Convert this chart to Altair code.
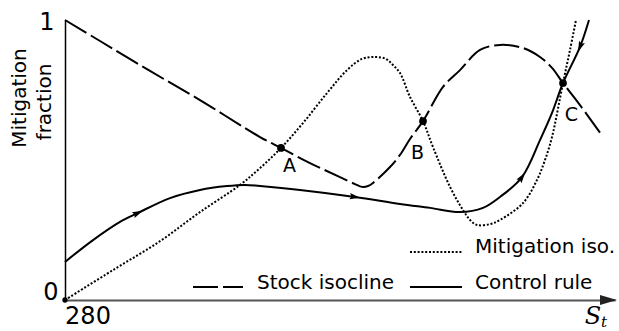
import math

import altair as alt
import pandas as pd

# Stock S_t on the horizontal axis, mitigation fraction on the vertical axis
stock_iso_S = [280, 315, 365, 415, 475, 496, 525, 555, 570, 577, 583, 588, 605, 615, 625,
               638, 658, 675, 695, 715, 738, 755, 767, 778, 795, 816]
stock_iso_m = [1.0, 0.925, 0.818, 0.714, 0.582, 0.543, 0.489, 0.439, 0.414, 0.404, 0.407,
               0.418, 0.475, 0.518, 0.575, 0.639, 0.761, 0.821, 0.893, 0.911, 0.9, 0.868,
               0.829, 0.775, 0.696, 0.593]

mitig_iso_S = [280, 328, 375, 415, 455, 475, 496, 518, 542, 562, 577, 590, 601, 608, 615,
               625, 638, 648, 665, 678, 685, 692, 705, 715, 738, 752, 760, 767, 778, 785, 791]
mitig_iso_m = [0.0, 0.107, 0.21, 0.314, 0.411, 0.471, 0.543, 0.632, 0.739, 0.821, 0.861,
               0.868, 0.861, 0.839, 0.811, 0.725, 0.639, 0.546, 0.404, 0.321, 0.286, 0.268,
               0.271, 0.286, 0.346, 0.429, 0.5, 0.582, 0.775, 0.893, 1.0]

control_S = [280, 308, 335, 353, 385, 415, 442, 460, 475, 515, 570, 615, 645, 675, 698,
             715, 737, 755, 767, 778, 795, 804]
control_m = [0.136, 0.214, 0.279, 0.311, 0.364, 0.393, 0.407, 0.411, 0.407, 0.393, 0.368,
             0.343, 0.329, 0.314, 0.329, 0.368, 0.439, 0.571, 0.668, 0.775, 0.904, 1.0]

# Equilibria where the two isoclines cross
eq_names = ["A", "B", "C"]
eq_S = [496, 638, 778]
eq_m = [0.543, 0.639, 0.775]

# Direction markers along the control rule (+1 forward in S, -1 backward)
arrow_S = [353, 570, 737, 795]
arrow_dir = [1, 1, 1, -1]

S_MIN, S_MAX = 280, 830
W, H = 550, 280
FONT = "DejaVu Sans"
CURVE = "catmull-rom"

x_scale = alt.Scale(domain=[S_MIN, S_MAX], nice=False, zero=False)
y_scale = alt.Scale(domain=[0, 1], nice=False, zero=False)


def xenc():
    return alt.X("S:Q", scale=x_scale,
                 axis=alt.Axis(labels=False, ticks=False, grid=False, title=None,
                               domainColor="#555555", domainWidth=2))


def yenc():
    return alt.Y("m:Q", scale=y_scale,
                 axis=alt.Axis(labels=False, ticks=False, grid=False, title=None,
                               domainColor="black", domainWidth=1.5))


stock_df = pd.DataFrame({"S": stock_iso_S, "m": stock_iso_m})
mitig_df = pd.DataFrame({"S": mitig_iso_S, "m": mitig_iso_m})
ctrl_df = pd.DataFrame({"S": control_S, "m": control_m})
eq_df = pd.DataFrame({"S": eq_S, "m": eq_m, "name": eq_names})

# arrowhead orientation follows the local slope of the control rule in screen space
angles, arrow_m = [], []
for s, d in zip(arrow_S, arrow_dir):
    i = control_S.index(s)
    dx = (control_S[i + 1] - control_S[i - 1]) * W / (S_MAX - S_MIN)
    dy = -(control_m[i + 1] - control_m[i - 1]) * H
    a = math.degrees(math.atan2(dy, dx)) + (180 if d < 0 else 0)
    angles.append(a % 360)
    arrow_m.append(control_m[i])
arrow_df = pd.DataFrame({"S": arrow_S, "m": arrow_m, "angle": angles})

DASH = [25, 5]
DOT = [2, 1.8]

stock_line = alt.Chart(stock_df).mark_line(
    color="black", strokeWidth=2, strokeDash=DASH, interpolate=CURVE
).encode(x=xenc(), y=yenc())

mitig_line = alt.Chart(mitig_df).mark_line(
    color="black", strokeWidth=2, strokeDash=DOT, interpolate=CURVE
).encode(x=xenc(), y=yenc())

ctrl_line = alt.Chart(ctrl_df).mark_line(
    color="black", strokeWidth=2, interpolate=CURVE
).encode(x=xenc(), y=yenc())

ARROW = "M1,0L-1,-0.6L-0.7,0L-1,0.6Z"
arrows = alt.Chart(arrow_df).mark_point(
    shape=ARROW, filled=True, color="black", opacity=1, size=110
).encode(x=xenc(), y=yenc(), angle=alt.Angle("angle:Q", scale=None))

eq_points = alt.Chart(eq_df).mark_point(
    shape="circle", filled=True, color="black", opacity=1, size=60
).encode(x=xenc(), y=yenc())

origin_dot = alt.Chart(pd.DataFrame({"S": [S_MIN], "m": [0.0]})).mark_point(
    shape="circle", filled=True, color="black", opacity=1, size=28
).encode(x=xenc(), y=yenc())

label_offsets = {"A": (8.5, 18.5), "B": (-5.5, 31.5), "C": (8.5, 31.5)}
eq_labels = [
    alt.Chart(eq_df).transform_filter(alt.datum.name == n).mark_text(
        font=FONT, fontSize=19, color="black", dx=ox, dy=oy,
        align="center", baseline="middle"
    ).encode(x=xenc(), y=yenc(), text="name:N")
    for n, (ox, oy) in label_offsets.items()
]

# x-axis arrowhead
x_arrow = alt.Chart(pd.DataFrame({"k": [0]})).mark_point(
    shape="M1,0L-1,-0.6L-1,0.6Z", filled=True, color="#222222", opacity=1, size=289
).encode(x=alt.value(543.5), y=alt.value(H))


def text_at(s, px, py, size=20, align="center", angle=0, font=FONT, style="normal",
            baseline="middle"):
    return alt.Chart(pd.DataFrame({"t": [s]})).mark_text(
        font=font, fontSize=size, color="black", align=align, baseline=baseline,
        angle=angle, fontStyle=style
    ).encode(x=alt.value(px), y=alt.value(py), text="t:N")


# plot area starts at (65, 20) in page pixels
def P(x, y):
    return x - 65, y - 20


texts = [
    text_at("1", *P(47, 23), size=24),
    text_at("0", *P(51, 293), size=24),
    text_at("280", *P(88, 317), size=24),
    text_at("Mitigation", *P(20, 98), size=20, angle=270),
    text_at("fraction", *P(45, 102), size=20, angle=270),
    text_at("S", *P(593, 324), size=24, font="DejaVu Serif", style="italic",
            baseline="alphabetic"),
    text_at("t", *P(604, 327), size=15, font="DejaVu Serif", style="italic",
            baseline="alphabetic"),
    text_at("Mitigation iso.", *P(475, 253), size=20, align="left", baseline="alphabetic"),
    text_at("Stock isocline", *P(257, 289), size=20, align="left", baseline="alphabetic"),
    text_at("Control rule", *P(475, 289), size=20, align="left", baseline="alphabetic"),
]


def legend_rule(x0, x1, y, dash, width):
    props = dict(color="black", strokeWidth=width)
    if dash:
        props["strokeDash"] = dash
    return alt.Chart(pd.DataFrame({"k": [0]})).mark_rule(**props).encode(
        x=alt.value(x0 - 65), x2=alt.value(x1 - 65), y=alt.value(y - 20)
    )


legend = [
    legend_rule(410, 462, 252, DOT, 2),
    legend_rule(193, 243, 287, DASH, 2),
    legend_rule(410, 462, 287, None, 2),
]

chart = alt.layer(
    mitig_line, stock_line, ctrl_line, arrows, eq_points, origin_dot, x_arrow,
    *eq_labels, *texts, *legend
).properties(
    width=W, height=H,
    padding={"left": 65, "top": 20, "right": 4, "bottom": 31},
    autosize=alt.AutoSizeParams(type="none"),
).configure_view(stroke=None)

chart.save("out.html", embed_options={"renderer": "svg", "actions": False})
